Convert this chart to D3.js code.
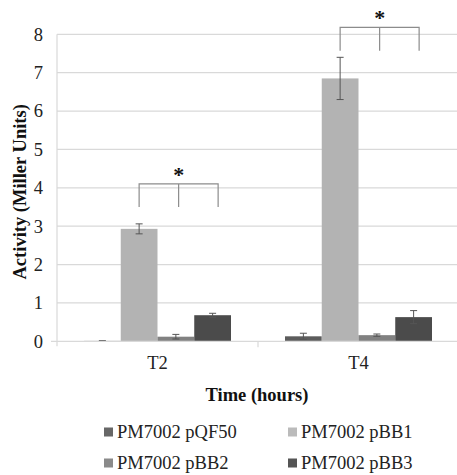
<!DOCTYPE html>
<html>
<head>
<meta charset="utf-8">
<script src="https://cdn.jsdelivr.net/npm/d3@7"></script>
<style>
  body { margin: 0; background: #fff; }
  svg text { font-family: "Liberation Serif", "Times New Roman", serif; }
</style>
</head>
<body>
<div id="chart"></div>
<script>
// data
const times = ["T2", "T4"];
const strains = ["PM7002 pQF50", "PM7002 pBB1", "PM7002 pBB2", "PM7002 pBB3"];
const means = {
  "PM7002 pQF50": [0.01, 0.13],
  "PM7002 pBB1": [2.93, 6.85],
  "PM7002 pBB2": [0.12, 0.16],
  "PM7002 pBB3": [0.68, 0.63]
};
const errors = {
  "PM7002 pQF50": [0.01, 0.08],
  "PM7002 pBB1": [0.13, 0.55],
  "PM7002 pBB2": [0.06, 0.03],
  "PM7002 pBB3": [0.05, 0.17]
};
const yTicks = [0, 1, 2, 3, 4, 5, 6, 7, 8];
// significance brackets: [bracket top, leg bottom] in y units
const brackets = {"T2": [4.1, 3.5], "T4": [8.18, 7.57]};

const colors = ["#5c5c5c", "#b3b3b3", "#818181", "#4b4b4b"];
const legendColors = ["#676767", "#bbbbbb", "#8a8a8a", "#555555"];
const fs = 18.5;

const width = 457, height = 475;
const svg = d3.select("#chart").append("svg")
  .attr("width", width)
  .attr("height", height)
  .attr("font-family", "Liberation Serif");

const x0 = d3.scaleBand().domain(times).range([57, 459]).paddingInner(0).paddingOuter(0);
const x1 = d3.scaleBand().domain(strains).range([0, x0.bandwidth()]).paddingInner(0).paddingOuter(0.735);
const y = d3.scaleLinear().domain([0, 8]).range([341.3, 34.3]);

// gridlines
svg.append("g")
  .selectAll("line")
  .data(yTicks.filter(d => d > 0))
  .join("line")
  .attr("x1", 57).attr("x2", width)
  .attr("y1", d => y(d)).attr("y2", d => y(d))
  .attr("stroke", "#d9d9d9").attr("stroke-width", 1.2);

// y axis
const yAxis = svg.append("g")
  .attr("transform", "translate(57,0)")
  .call(d3.axisLeft(y).tickValues(yTicks).tickSize(0).tickPadding(14))
  .attr("font-family", "Liberation Serif");
yAxis.select(".domain").remove();
yAxis.selectAll("text")
  .attr("font-size", fs)
  .attr("fill", "#222");
svg.append("line")
  .attr("x1", 57).attr("x2", 57).attr("y1", y(8)).attr("y2", y(0) + 5)
  .attr("stroke", "#d9d9d9").attr("stroke-width", 1.2);

// bars
const groups = svg.append("g")
  .selectAll("g")
  .data(times)
  .join("g")
  .attr("transform", d => `translate(${x0(d)},0)`);

groups.selectAll("rect")
  .data((t, i) => strains.map((s, k) => ({s, k, v: means[s][i], e: errors[s][i]})))
  .join("rect")
  .attr("x", d => x1(d.s))
  .attr("width", x1.bandwidth())
  .attr("y", d => y(d.v))
  .attr("height", d => y(0) - y(d.v))
  .attr("fill", d => colors[d.k]);

// x axis line + ticks
svg.append("line")
  .attr("x1", 51).attr("x2", width).attr("y1", y(0)).attr("y2", y(0))
  .attr("stroke", "#d9d9d9").attr("stroke-width", 1.2);
svg.append("g")
  .selectAll("line")
  .data(times.slice(1))
  .join("line")
  .attr("x1", d => x0(d)).attr("x2", d => x0(d))
  .attr("y1", y(0)).attr("y2", y(0) + 6)
  .attr("stroke", "#d9d9d9").attr("stroke-width", 1.2);

// error bars
const eb = groups.selectAll("g.err")
  .data((t, i) => strains.map(s => ({s, v: means[s][i], e: errors[s][i]})))
  .join("g")
  .attr("class", "err")
  .attr("stroke", "#555").attr("stroke-width", 1);
const cx = d => x1(d.s) + x1.bandwidth() / 2;
eb.append("line")
  .attr("x1", cx).attr("x2", cx)
  .attr("y1", d => y(d.v + d.e)).attr("y2", d => y(Math.max(0, d.v - d.e)));
eb.append("line")
  .attr("x1", d => cx(d) - 3.5).attr("x2", d => cx(d) + 3.5)
  .attr("y1", d => y(d.v + d.e)).attr("y2", d => y(d.v + d.e));
eb.append("line")
  .attr("x1", d => cx(d) - 3.5).attr("x2", d => cx(d) + 3.5)
  .attr("y1", d => y(Math.max(0, d.v - d.e))).attr("y2", d => y(Math.max(0, d.v - d.e)));

// category labels
svg.append("g")
  .selectAll("text")
  .data(times)
  .join("text")
  .attr("x", d => x0(d) + x0.bandwidth() / 2)
  .attr("y", 369)
  .attr("text-anchor", "middle")
  .attr("font-size", fs)
  .attr("fill", "#222")
  .text(d => d);

// significance brackets
times.forEach(t => {
  const [top, bot] = brackets[t];
  const left = x0(t) + x1(strains[1]) + x1.bandwidth() / 2;
  const right = left + 79;
  const mid = (left + right) / 2;
  const g = svg.append("g").attr("stroke", "#8c8c8c").attr("stroke-width", 1.2).attr("fill", "none");
  g.append("path").attr("d", `M${left},${y(bot)}V${y(top)}H${right}V${y(bot)}`);
  g.append("line").attr("x1", mid).attr("x2", mid).attr("y1", y(top)).attr("y2", y(bot));
  svg.append("text")
    .attr("x", mid).attr("y", y(top) - 2)
    .attr("text-anchor", "middle")
    .attr("font-size", 22).attr("font-weight", "bold")
    .attr("fill", "#111")
    .text("*");
});

// axis titles
svg.append("text")
  .attr("transform", `translate(26,${(y(0) + y(8)) / 2 + 4}) rotate(-90)`)
  .attr("text-anchor", "middle")
  .attr("font-size", fs).attr("font-weight", "bold")
  .attr("fill", "#111")
  .text("Activity (Miller Units)");
svg.append("text")
  .attr("x", 257).attr("y", 401)
  .attr("text-anchor", "middle")
  .attr("font-size", fs).attr("font-weight", "bold")
  .attr("fill", "#111")
  .text("Time (hours)");

// legend
const legend = svg.append("g")
  .selectAll("g")
  .data(strains)
  .join("g")
  .attr("transform", (d, i) => `translate(${i % 2 ? 288 : 104},${i < 2 ? 432 : 463})`);
legend.append("rect")
  .attr("x", 0).attr("y", -4.5).attr("width", 9).attr("height", 9)
  .attr("fill", (d, i) => legendColors[i]);
legend.append("text")
  .attr("x", 13).attr("y", 6)
  .attr("font-size", fs).attr("fill", "#222")
  .text(d => d);
</script>
</body>
</html>
